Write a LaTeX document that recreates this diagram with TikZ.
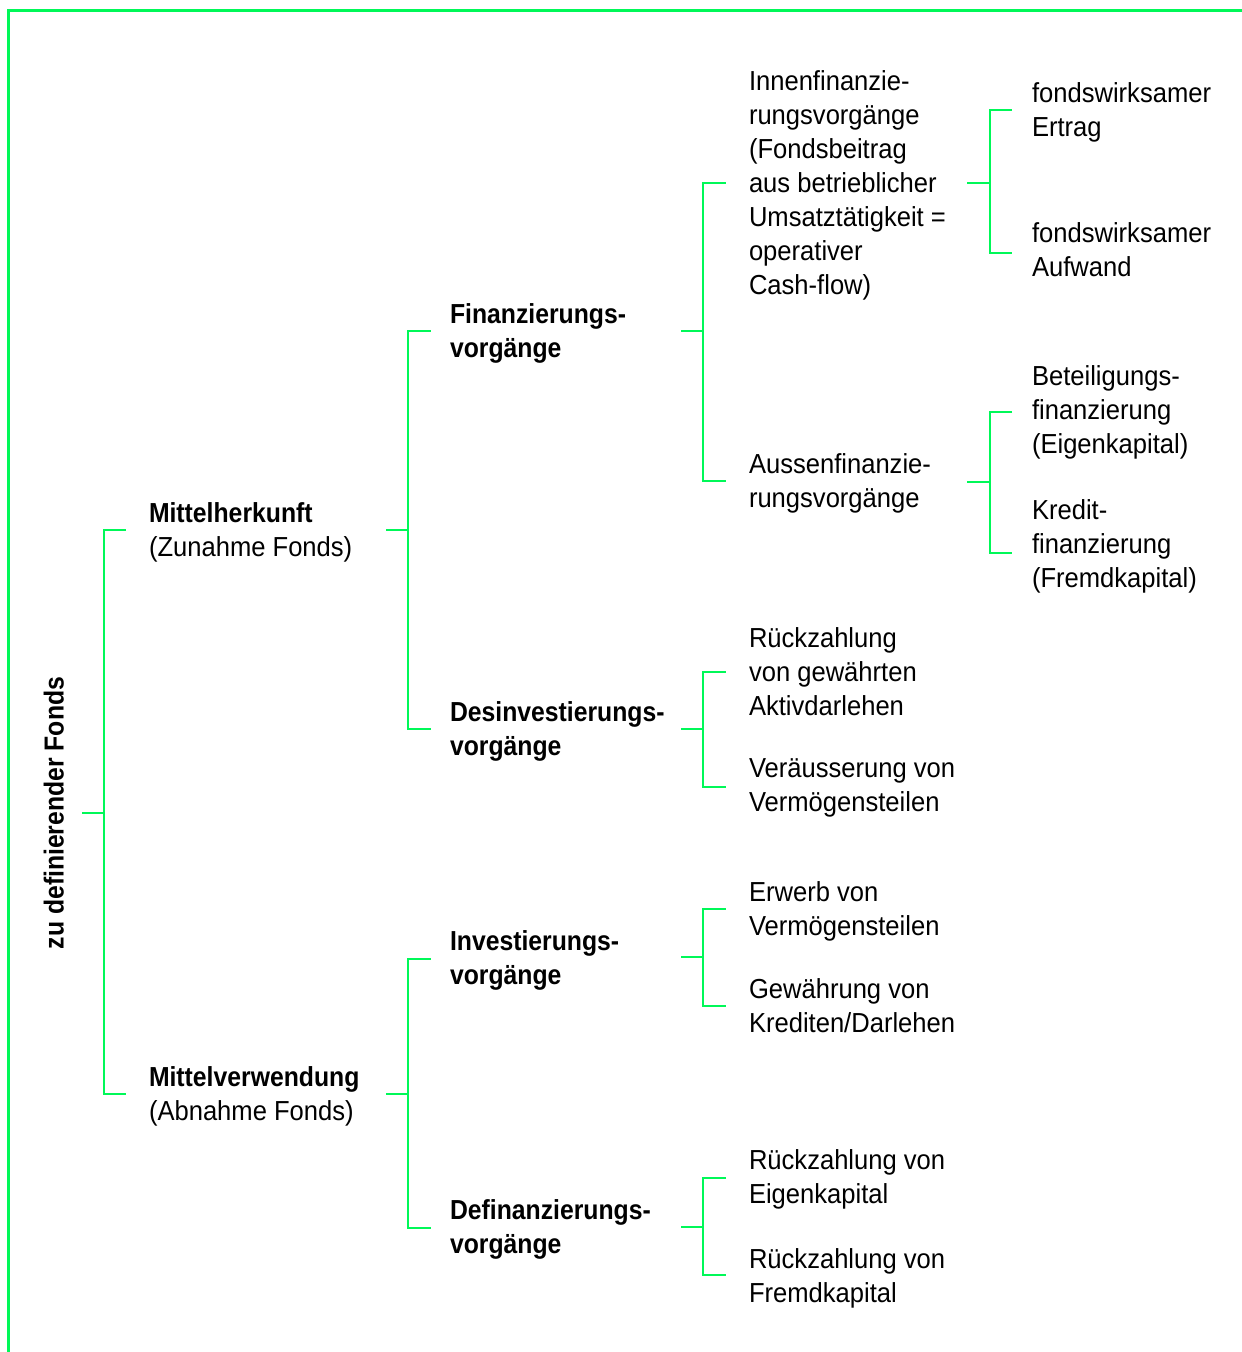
\documentclass[tikz,border=0pt]{standalone}
\usepackage{fontspec}
\setmainfont{Liberation Sans}[FakeStretch=0.93,BoldFeatures={FakeStretch=0.9}]
\definecolor{fgreen}{RGB}{0,248,88}
% struts: keep the vertical centre of every text block on the cap-height middle
\newcommand\topstrut{\rule{0pt}{32.5pt}}
\newcommand\botstrut{\rule[-6.5pt]{0pt}{6.5pt}}
\tikzset{
  conn/.style={draw=fgreen, line width=2pt},
  frame/.style={draw=fgreen, line width=3pt},
  txt/.style={anchor=west, inner sep=0pt, outer sep=0pt, align=left,
    yshift=-2.5pt,
    font=\fontsize{27.5}{34}\selectfont,
    execute at begin node=\topstrut, execute at end node=\botstrut},
  head/.style={txt, font=\fontsize{27.5}{34}\selectfont\bfseries},
  rootlbl/.style={rotate=90, anchor=base, inner sep=0pt,
    font=\fontsize{27.5}{34}\selectfont\bfseries},
}
\begin{document}
\begin{tikzpicture}[x=1pt,y=-1pt]
\useasboundingbox (0,0) rectangle (1242,1352);
% frame along the top and left edge
\draw[frame] (1242,10.5) -- (8.5,10.5) -- (8.5,1352);

% root
\node[rootlbl] (root) at (63.5,813) {zu definierender Fonds};

% level 1
\node[txt] (mh) at (149,530) {\textbf{Mittelherkunft}\\(Zunahme Fonds)};
\node[txt] (mv) at (149,1094) {\textbf{Mittelverwendung}\\(Abnahme Fonds)};

% level 2
\node[head] (fin) at (450,331) {Finanzierungs-\\vorgänge};
\node[head] (des) at (450,729) {Desinvestierungs-\\vorgänge};
\node[head] (inv) at (450,958) {Investierungs-\\vorgänge};
\node[head] (def) at (450,1227) {Definanzierungs-\\vorgänge};

% level 3
\node[txt] (innen) at (749,183) {Innenfinanzie-\\rungsvorgänge\\(Fondsbeitrag\\aus betrieblicher\\Umsatztätigkeit =\\operativer\\Cash-flow)};
\node[txt] (aussen) at (749,481) {Aussenfinanzie-\\rungsvorgänge};
\node[txt] (rakt) at (749,672) {Rückzahlung\\von gewährten\\Aktivdarlehen};
\node[txt] (ver) at (749,786) {Veräusserung von\\Vermögensteilen};
\node[txt] (erw) at (749,909) {Erwerb von\\Vermögensteilen};
\node[txt] (gew) at (749,1006) {Gewährung von\\Krediten/Darlehen};
\node[txt] (rek) at (749,1177) {Rückzahlung von\\Eigenkapital};
\node[txt] (rfk) at (749,1276) {Rückzahlung von\\Fremdkapital};

% level 4
\node[txt] (ert) at (1032,110) {fondswirksamer\\Ertrag};
\node[txt] (auf) at (1032,250) {fondswirksamer\\Aufwand};
\node[txt] (bet) at (1032,410) {Beteiligungs-\\finanzierung\\(Eigenkapital)};
\node[txt] (kre) at (1032,544) {Kredit-\\finanzierung\\(Fremdkapital)};

% junctions of the brackets
\coordinate (j0) at (104,813);
\coordinate (j-mh) at (407.5,530);
\coordinate (j-mv) at (407.5,1094);
\coordinate (j-fin) at (703,331);
\coordinate (j-des) at (703,729);
\coordinate (j-inv) at (703,957);
\coordinate (j-def) at (703,1227);
\coordinate (j-innen) at (990,183);
\coordinate (j-aussen) at (990,482);

% outgoing stubs
\coordinate (mh-out) at (386,530);
\coordinate (mv-out) at (386,1094);
\coordinate (fin-out) at (681,331);
\coordinate (des-out) at (681,729);
\coordinate (inv-out) at (681,957);
\coordinate (def-out) at (681,1227);
\coordinate (innen-out) at (967,183);
\coordinate (aussen-out) at (967,482);

% root bracket
\draw[conn] ([xshift=18.5pt]root.base) -- (j0);
\draw[conn] ([xshift=-23pt,yshift=2.5pt]mh.west) -| (j0) |- ([xshift=-23pt,yshift=2.5pt]mv.west);

% level 1 brackets
\draw[conn] (mh-out) -- (j-mh);
\draw[conn] ([xshift=-19.5pt,yshift=2.5pt]fin.west) -| (j-mh) |- ([xshift=-19.5pt,yshift=2.5pt]des.west);
\draw[conn] (mv-out) -- (j-mv);
\draw[conn] ([xshift=-19.5pt,yshift=1.5pt]inv.west) -| (j-mv) |- ([xshift=-19.5pt,yshift=1.5pt]def.west);

% level 2 brackets
\draw[conn] (fin-out) -- (j-fin);
\draw[conn] ([xshift=-23.5pt,yshift=2.5pt]innen.west) -| (j-fin) |- ([xshift=-23.5pt,yshift=2.5pt]aussen.west);
\draw[conn] (des-out) -- (j-des);
\draw[conn] ([xshift=-23.5pt,yshift=2.5pt]rakt.west) -| (j-des) |- ([xshift=-23.5pt,yshift=1.5pt]ver.west);
\draw[conn] (inv-out) -- (j-inv);
\draw[conn] ([xshift=-23.5pt,yshift=2.5pt]erw.west) -| (j-inv) |- ([xshift=-23.5pt,yshift=2.5pt]gew.west);
\draw[conn] (def-out) -- (j-def);
\draw[conn] ([xshift=-23.5pt,yshift=1.5pt]rek.west) -| (j-def) |- ([xshift=-23.5pt,yshift=3.5pt]rfk.west);

% level 3 brackets
\draw[conn] (innen-out) -- (j-innen);
\draw[conn] ([xshift=-20pt,yshift=2.5pt]ert.west) -| (j-innen) |- ([xshift=-20pt,yshift=-0.5pt]auf.west);
\draw[conn] (aussen-out) -- (j-aussen);
\draw[conn] ([xshift=-20pt,yshift=0.5pt]bet.west) -| (j-aussen) |- ([xshift=-20pt,yshift=-6.5pt]kre.west);
\end{tikzpicture}
\end{document}
